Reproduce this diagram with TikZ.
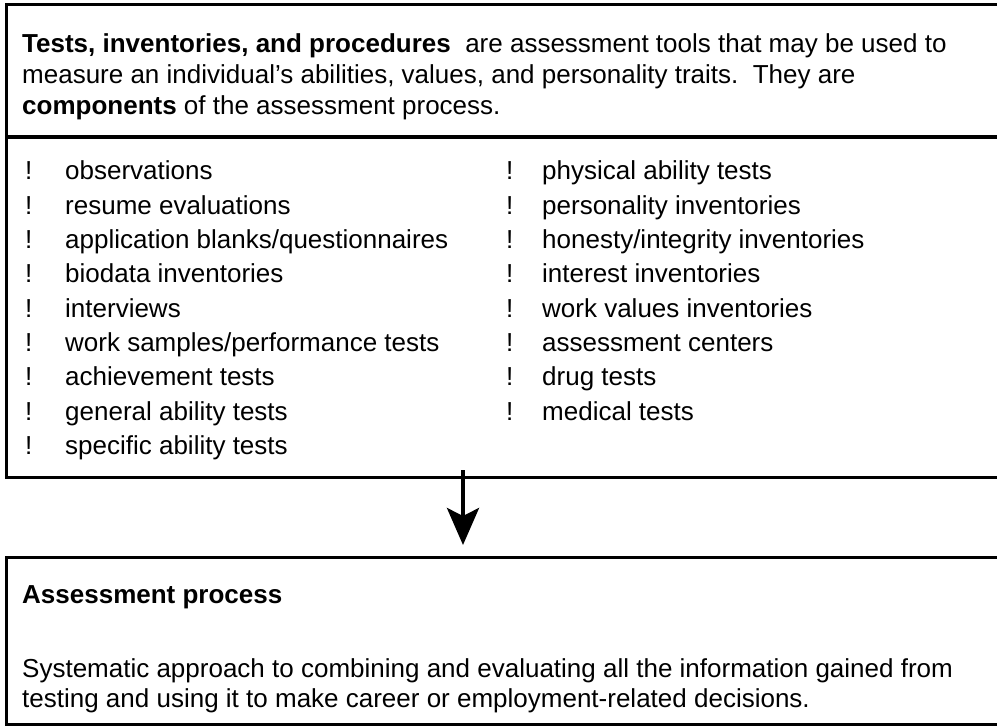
\documentclass[tikz,border=0pt]{standalone}
\usepackage{fontspec}
\setmainfont{Liberation Sans}
\usetikzlibrary{arrows.meta}
\begin{document}
\begin{tikzpicture}[x=1pt,y=-1pt,
  boxline/.style={line width=3pt},
  boxarea/.style={draw=none, inner sep=0pt, anchor=north west, minimum width=991pt},
  txt/.style={anchor=base west, inner sep=0pt, font=\fontsize{26}{31}\selectfont},
  arr/.style={line width=4pt, -{Stealth[length=37pt,width=32pt,inset=8pt]}}]
\useasboundingbox (0,0) rectangle (997,727);
% boxes
\node[boxarea, minimum height=132pt] (intro) at (6,5) {};
\node[boxarea, minimum height=340pt] (list) at (6,137) {};
\node[boxarea, minimum height=167pt] (proc) at (6,557) {};
\draw[boxline] (intro.north east) -- (intro.north west) -- (intro.south west) -- (intro.south east);
\draw[boxline] (list.north east) -- (list.north west) -- (list.south west) -- (list.south east);
\draw[boxline] (proc.north east) -- (proc.north west) -- (proc.south west) -- (proc.south east);
% intro text
\node[txt] (l1) at (22,53) {\textbf{Tests, inventories, and procedures}\ \ are assessment tools that may be used to};
\node[txt] (l2) at (22,84) {measure an individual’s abilities, values, and personality traits.\ \ They are};
\node[txt] (l3) at (22,115) {\textbf{components} of the assessment process.};
% list column 1
\foreach \t [count=\i] in {observations, resume evaluations, application blanks/questionnaires, biodata inventories, interviews, work samples/performance tests, achievement tests, general ability tests, specific ability tests}{
  \node[txt] (ba\i) at (25,{180+34.3*(\i-1)}) {!};
  \node[txt] (ta\i) at (65,{180+34.3*(\i-1)}) {\t};
}
% list column 2
\foreach \t [count=\i] in {physical ability tests, personality inventories, honesty/integrity inventories, interest inventories, work values inventories, assessment centers, drug tests, medical tests}{
  \node[txt] (bb\i) at (506,{180+34.3*(\i-1)}) {!};
  \node[txt] (tb\i) at (542,{180+34.3*(\i-1)}) {\t};
}
% process text
\node[txt] (p1) at (22,603) {\textbf{Assessment process}};
\node[txt] (p2) at (22,677) {Systematic approach to combining and evaluating all the information gained from};
\node[txt] (p3) at (22,707) {testing and using it to make career or employment-related decisions.};
% arrow
\draw[arr] ([xshift=457pt,yshift=7pt]list.south west) -- ([xshift=457pt,yshift=12pt]proc.north west);
\end{tikzpicture}
\end{document}
